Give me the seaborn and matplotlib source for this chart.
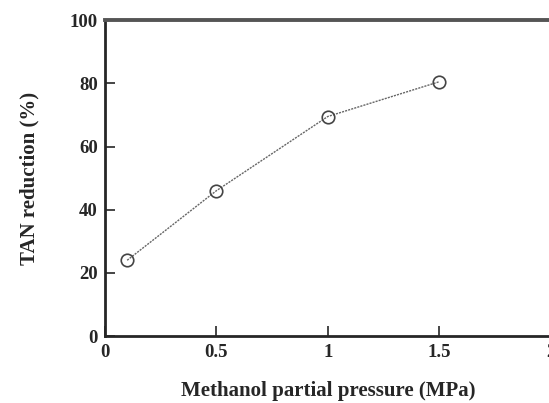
import numpy as np
import pandas as pd
import matplotlib
matplotlib.use("Agg")
import matplotlib.pyplot as plt
import seaborn as sns

# data
pressure = [0.1, 0.5, 1.0, 1.5]
tan_reduction = [24.0, 46.0, 69.5, 80.5]
x_ticks = [0, 0.5, 1, 1.5, 2]
x_tick_labels = ["0", "0.5", "1", "1.5", "2"]
y_ticks = [0, 20, 40, 60, 80, 100]

df = pd.DataFrame({"p": pressure, "tan": tan_reduction})

sns.set_style("ticks")
plt.rcParams["font.family"] = ["Liberation Serif", "DejaVu Serif"]
plt.rcParams["font.weight"] = "bold"

fig = plt.figure(figsize=(5.49, 4.03), dpi=100)
ax = fig.add_axes([0.191, 0.166, 0.812, 0.784])

sns.lineplot(data=df, x="p", y="tan", ax=ax, color="#666666", lw=1.0,
             linestyle=(0, (1.5, 0.8)), marker="o", markersize=9,
             markerfacecolor="none", markeredgecolor="#444444",
             markeredgewidth=1.2)

ax.set_xlim(0, 2)
ax.set_ylim(0, 100)
ax.set_xticks(x_ticks)
ax.set_xticklabels(x_tick_labels)
ax.set_yticks(y_ticks)
ax.tick_params(direction="in", length=7, width=1.2, labelsize=13.5, pad=6)
ax.tick_params(axis="y", pad=5)
for lab in ax.get_xticklabels() + ax.get_yticklabels():
    lab.set_fontweight("bold")

ax.spines["left"].set_linewidth(2)
ax.spines["bottom"].set_linewidth(2)
ax.spines["top"].set_linewidth(2.8)
ax.spines["top"].set_color("#555555")
ax.spines["right"].set_visible(False)

ax.set_xlabel("Methanol partial pressure (MPa)", fontsize=15,
              fontweight="bold", labelpad=14)
ax.set_ylabel("TAN reduction (%)", fontsize=15, fontweight="bold",
              labelpad=22)

fig.savefig("out.png", dpi=100)
